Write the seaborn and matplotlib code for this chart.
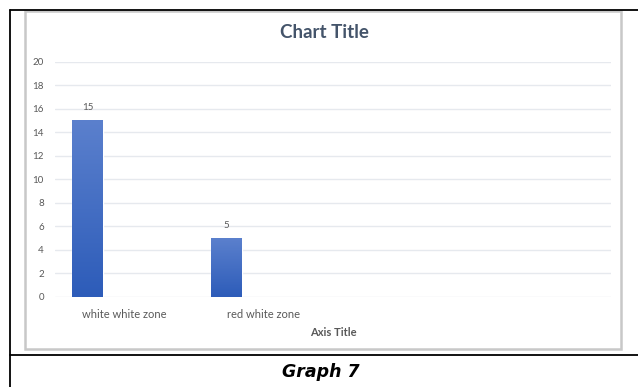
import numpy as np
import pandas as pd
import matplotlib
matplotlib.use("Agg")
import matplotlib.pyplot as plt
import seaborn as sns
from matplotlib.colors import LinearSegmentedColormap
from matplotlib.patches import Rectangle
from matplotlib.lines import Line2D

# Chart data
categories = ["white white zone", "red white zone"]
series_names = ["Series1", "Series2", "Series3"]
values = [15, 5]
y_ticks = [0, 2, 4, 6, 8, 10, 12, 14, 16, 18, 20]
chart_title = "Chart Title"
axis_title = "Axis Title"
caption = "Graph 7"

df = pd.DataFrame({"category": categories,
                   "series": series_names[0],
                   "value": values})

sns.set_theme(style="white")
plt.rcParams["font.family"] = ["Lato", "DejaVu Sans"]

W, H = 638, 387
fig = plt.figure(figsize=(W / 100, H / 100), dpi=100)
fig.patch.set_facecolor("white")

ax = fig.add_axes([55 / W, 1 - 296.7 / H, (611 - 55) / W, (296.7 - 61.5) / H])

sns.barplot(data=df, x="category", y="value", hue="series",
            order=categories, hue_order=series_names,
            palette=["#3d68c2"] * 3, width=0.8, gap=0.164,
            dodge=True, legend=False, errorbar=None, ax=ax)

ax.set_xlim(-0.5, 3.5)
ax.set_ylim(0, 20)

# vertical gradient fill for each bar
grad = LinearSegmentedColormap.from_list("bar", ["#2d5cb9", "#5b80cd"])
for patch in list(ax.patches):
    x0, y0 = patch.get_x(), patch.get_y()
    w, h = patch.get_width(), patch.get_height()
    if not np.isfinite(h) or h <= 0:
        continue
    img = ax.imshow(np.linspace(0, 1, 256).reshape(-1, 1), cmap=grad,
                    origin="lower", aspect="auto",
                    extent=[x0, x0 + w, y0, y0 + h], zorder=patch.get_zorder() + 0.1)
    img.set_clip_path(patch)

ax.set_xlim(-0.5, 3.5)
ax.set_ylim(0, 20)

for cont in ax.containers:
    if len(cont) and np.all(np.isfinite([b.get_height() for b in cont])):
        ax.bar_label(cont, fmt="%g", padding=6, fontsize=7, color="#595959")

ax.set_yticks(y_ticks)
ax.yaxis.grid(True, color="#e6e9ee", linewidth=1.0)
ax.set_axisbelow(True)
for s in ax.spines.values():
    s.set_visible(False)
ax.tick_params(axis="both", length=0, labelsize=7, colors="#595959")
ax.tick_params(axis="y", pad=8)
ax.tick_params(axis="x", pad=9, labelsize=8)
ax.set_ylabel("")
ax.set_xlabel(axis_title, fontsize=8, color="#595959", fontweight="bold", labelpad=5)

# chart title
fig.text(324 / W, 1 - 32 / H, chart_title, ha="center", va="center",
         fontsize=13.5, fontweight="bold", color="#44546a")

# chart area border
fig.add_artist(Rectangle((25 / W, 1 - 349 / H), (621 - 25) / W, (349 - 10.5) / H,
                         transform=fig.transFigure, fill=False,
                         edgecolor="#c8c8c8", linewidth=1.8))

# table rules around the figure cell
top_y = 1 - 9.5 / H
left_x = 10 / W
rule_y = 1 - 355 / H
for xs, ys in [([left_x, 1], [top_y, top_y]),
               ([left_x, left_x], [0, top_y]),
               ([left_x, 1], [rule_y, rule_y])]:
    fig.add_artist(Line2D(xs, ys, transform=fig.transFigure,
                          color="black", linewidth=1.3))

fig.text(321 / W, 1 - 372 / H, caption, ha="center", va="center",
         fontsize=12.5, fontweight="bold", style="italic",
         family=["DejaVu Sans"], color="black")

fig.savefig("out.png", dpi=100)
